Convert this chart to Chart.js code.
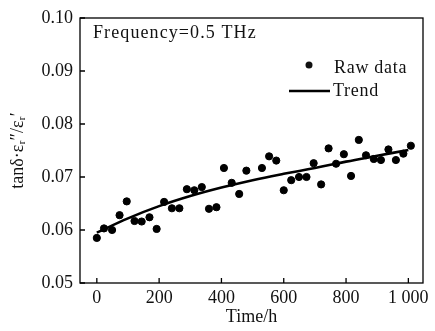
<!DOCTYPE html>
<html>
<head>
<meta charset="utf-8">
<script src="https://cdn.jsdelivr.net/npm/chart.js@4/dist/chart.umd.min.js"></script>
<style>
  html, body { margin: 0; padding: 0; background: #fff; }
  #wrap { width: 435px; height: 331px; }
</style>
</head>
<body>
<div id="wrap"><canvas id="chart"></canvas></div>
<script>
var rawTime = [0, 23, 49, 73, 96, 121, 144, 169, 192, 216, 241, 265, 289, 313, 337, 360, 384, 408, 433, 457, 480,
  530, 553, 576, 600, 624, 649, 673, 696, 720, 744, 768, 793, 816, 841, 864, 889, 912, 936, 960, 984, 1008];
var rawValue = [0.0585, 0.0603, 0.0600, 0.0628, 0.0654, 0.0617, 0.0616, 0.0624, 0.0602, 0.0653, 0.0641, 0.0641,
  0.0677, 0.0675, 0.0681, 0.0640, 0.0643, 0.0717, 0.0689, 0.0668, 0.0712,
  0.0717, 0.0739, 0.0731, 0.0675, 0.0694, 0.0700, 0.0700, 0.0726, 0.0686, 0.0754, 0.0725, 0.0743, 0.0702,
  0.0770, 0.0741, 0.0734, 0.0732, 0.0752, 0.0732, 0.0744, 0.0759];

// trend curve
var trendTime = [0, 100, 200, 300, 400, 500, 600, 700, 800, 900, 1000];
var trendValue = [0.0595, 0.0622, 0.0645, 0.0664, 0.0680, 0.0694, 0.0706, 0.0717, 0.0729, 0.0740, 0.0751];

var xTicks = [0, 200, 400, 600, 800, 1000];
var yTicks = [0.05, 0.06, 0.07, 0.08, 0.09, 0.10];

var serif = '"Liberation Serif", "DejaVu Serif", serif';

function pairs(xs, ys) {
  return xs.map(function (x, i) { return { x: x, y: ys[i] }; });
}

// box round the plot, inward ticks, legend and the note
var framePlugin = {
  id: 'frame',
  afterDraw: function (chart) {
    var ctx = chart.ctx, a = chart.chartArea;
    var xs = chart.scales.x, ys = chart.scales.y;
    ctx.save();
    ctx.strokeStyle = '#000';
    ctx.lineWidth = 1.3;
    ctx.strokeRect(a.left, a.top, a.right - a.left, a.bottom - a.top);
    ctx.beginPath();
    xTicks.forEach(function (v) {
      var px = xs.getPixelForValue(v);
      ctx.moveTo(px, a.bottom);
      ctx.lineTo(px, a.bottom - 5);
    });
    yTicks.forEach(function (v) {
      var py = ys.getPixelForValue(v);
      ctx.moveTo(a.left, py);
      ctx.lineTo(a.left + 5, py);
    });
    ctx.stroke();

    ctx.fillStyle = '#111';
    ctx.font = '18px ' + serif;
    ctx.textBaseline = 'middle';
    ctx.textAlign = 'left';
    ctx.letterSpacing = '1.1px';
    ctx.fillText('Frequency=0.5 THz', a.left + 13, a.top + 15);

    // legend
    ctx.letterSpacing = '0.7px';
    ctx.beginPath();
    ctx.arc(309, 65, 3.5, 0, Math.PI * 2);
    ctx.fill();
    ctx.fillText('Raw data', 334, 68);
    ctx.lineWidth = 2.6;
    ctx.beginPath();
    ctx.moveTo(289, 91);
    ctx.lineTo(330, 91);
    ctx.stroke();
    ctx.fillText('Trend', 333, 91);
    ctx.restore();
  }
};

new Chart(document.getElementById('chart'), {
  type: 'scatter',
  data: {
    datasets: [
      {
        label: 'Raw data',
        data: pairs(rawTime, rawValue),
        backgroundColor: '#000',
        borderColor: '#000',
        pointRadius: 3.6,
        pointHoverRadius: 3.6,
        showLine: false
      },
      {
        label: 'Trend',
        data: pairs(trendTime, trendValue),
        borderColor: '#000',
        borderWidth: 2.6,
        pointRadius: 0,
        showLine: true,
        tension: 0.4,
        fill: false
      }
    ]
  },
  options: {
    responsive: true,
    maintainAspectRatio: false,
    animation: false,
    layout: { padding: { top: 18, right: 12, left: 0, bottom: 0 } },
    plugins: {
      legend: { display: false },
      tooltip: { enabled: false }
    },
    scales: {
      x: {
        type: 'linear',
        min: -54,
        max: 1047,
        afterBuildTicks: function (s) { s.ticks = xTicks.map(function (v) { return { value: v }; }); },
        afterFit: function (s) { s.height = 48; },
        grid: { display: false, drawTicks: false },
        border: { display: false },
        ticks: {
          padding: 4,
          color: '#111',
          font: { family: serif, size: 18 },
          callback: function (v) { return v === 1000 ? '1 000' : String(v); }
        },
        title: {
          display: true,
          text: 'Time/h',
          color: '#111',
          font: { family: serif, size: 18 },
          padding: { top: 0, bottom: 3 }
        }
      },
      y: {
        min: 0.05,
        max: 0.10,
        afterBuildTicks: function (s) { s.ticks = yTicks.map(function (v) { return { value: v }; }); },
        afterFit: function (s) { s.width = 80; },
        grid: { display: false, drawTicks: false },
        border: { display: false },
        ticks: {
          padding: 7,
          color: '#111',
          font: { family: serif, size: 18 },
          callback: function (v) { return v.toFixed(2); }
        },
        title: {
          display: true,
          text: 'tanδ·εᵣ″/εᵣ′',
          color: '#111',
          font: { family: serif, size: 18 },
          padding: { top: 7, bottom: 2 }
        }
      }
    }
  },
  plugins: [framePlugin]
});
</script>
</body>
</html>
